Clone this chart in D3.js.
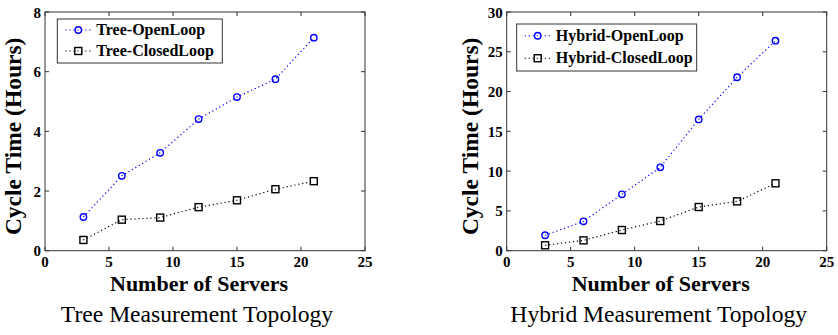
<!DOCTYPE html>
<html>
<head>
<meta charset="utf-8">
<script src="https://cdn.jsdelivr.net/npm/d3@7"></script>
<style>
  body { margin: 0; background: #fff; }
  svg { display: block; }
  svg text { font-family: 'Liberation Serif'; }
  .tick-lbl { font-weight: bold; font-size: 15px; }
</style>
</head>
<body>
<div id="c"></div>
<script>
"use strict";

// x values (number of servers)
const servers = [3, 6, 9, 12, 15, 18, 21]

// tree topology (hours)
const treeOpen   = [1.13, 2.51, 3.28, 4.41, 5.15, 5.75, 7.14]
const treeClosed = [0.36, 1.04, 1.11, 1.46, 1.69, 2.06, 2.33]

// hybrid topology (hours)
const hybridOpen   = [1.94, 3.69, 7.09, 10.48, 16.5, 21.8, 26.4]
const hybridClosed = [0.68, 1.30, 2.60, 3.73, 5.49, 6.20, 8.47]

const xTicks = [0, 5, 10, 15, 20, 25]
const treeYTicks = [0, 2, 4, 6, 8]
const hybridYTicks = [0, 5, 10, 15, 20, 25, 30]

const W = 838, H = 335

let svg = d3.select('#c').append('svg')
    .attr('width', W).attr('height', H)

function drawPanel(opt) {
    const left = opt.left, top = 12, width = 320, height = 238.7
    let g = svg.append('g').attr('transform', 'translate(' + left + ',' + top + ')')

    let xScale = d3.scaleLinear().domain([0, 25]).range([0, width])
    let yScale = d3.scaleLinear().domain([0, opt.yMax]).range([height, 0])

    const axisColor = '#333'
    const tl = 4

    // box
    g.append('rect')
        .attr('x', 0).attr('y', 0)
        .attr('width', width).attr('height', height)
        .attr('fill', 'none').attr('stroke', axisColor).attr('stroke-width', 1)

    // x ticks, bottom & top, inward
    xTicks.forEach(t => {
        let x = xScale(t)
        g.append('line').attr('x1', x).attr('x2', x).attr('y1', height).attr('y2', height - tl)
            .attr('stroke', axisColor)
        g.append('line').attr('x1', x).attr('x2', x).attr('y1', 0).attr('y2', tl)
            .attr('stroke', axisColor)
        g.append('text').attr('class', 'tick-lbl')
            .attr('x', x).attr('y', height + 16)
            .attr('text-anchor', 'middle')
            .text(t)
    })
    // y ticks, left & right
    opt.yTicks.forEach(t => {
        let y = yScale(t)
        g.append('line').attr('x1', 0).attr('x2', tl).attr('y1', y).attr('y2', y)
            .attr('stroke', axisColor)
        g.append('line').attr('x1', width).attr('x2', width - tl).attr('y1', y).attr('y2', y)
            .attr('stroke', axisColor)
        g.append('text').attr('class', 'tick-lbl')
            .attr('x', -4).attr('y', y + 5.5)
            .attr('text-anchor', 'end')
            .text(t)
    })

    // axis labels
    g.append('text')
        .attr('x', width / 2 - 6).attr('y', height + 40)
        .attr('text-anchor', 'middle')
        .style('font-weight', 'bold').style('font-size', '22px')
        .text('Number of Servers')
    g.append('text')
        .attr('transform', 'translate(' + opt.yLabelX + ',' + (height / 2 + 5) + ') rotate(-90)')
        .attr('text-anchor', 'middle')
        .style('font-weight', 'bold').style('font-size', '23.5px')
        .text('Cycle Time (Hours)')

    // caption
    g.append('text')
        .attr('x', width / 2 + opt.capShift).attr('y', 310)
        .attr('text-anchor', 'middle')
        .style('font-size', '23.6px')
        .text(opt.caption)

    const line = d3.line().x(d => xScale(d[0])).y(d => yScale(d[1]))

    const series = [
        { vals: opt.open, color: '#0000ff', marker: 'circle', name: opt.names[0] },
        { vals: opt.closed, color: '#000000', marker: 'square', name: opt.names[1] },
    ]

    function marker(sel, s, x, y) {
        if (s.marker == 'circle') {
            sel.append('circle').attr('cx', x).attr('cy', y).attr('r', 3.2)
                .attr('fill', 'none').attr('stroke', s.color).attr('stroke-width', 1.4)
        } else {
            sel.append('rect').attr('x', x - 3.5).attr('y', y - 3.5)
                .attr('width', 7).attr('height', 7)
                .attr('fill', 'none').attr('stroke', s.color).attr('stroke-width', 1.4)
        }
    }

    series.forEach(s => {
        let pts = servers.map((x, i) => [x, s.vals[i]])
        g.append('path').datum(pts)
            .attr('fill', 'none').attr('stroke', s.color)
            .attr('stroke-width', 1.2).attr('stroke-dasharray', '1.2,2.8')
            .attr('d', line)
        pts.forEach(p => marker(g, s, xScale(p[0]), yScale(p[1])))
    })

    // legend
    let lg = g.append('g').attr('transform', 'translate(' + opt.legend.x + ',' + opt.legend.y + ')')
    lg.append('rect').attr('x', 0).attr('y', 0)
        .attr('width', opt.legend.w).attr('height', opt.legend.h)
        .attr('fill', '#fff').attr('stroke', axisColor)
    series.forEach((s, i) => {
        let y = opt.legend.h * (i + 0.5) / 2 + (i == 0 ? 0 : -1)
        lg.append('line').attr('x1', 8).attr('x2', 36).attr('y1', y).attr('y2', y)
            .attr('stroke', s.color).attr('stroke-width', 1.2).attr('stroke-dasharray', '1.2,2.8')
        marker(lg, s, 21, y)
        lg.append('text').attr('x', 39).attr('y', y + 5)
            .style('font-weight', 'bold').style('font-size', '16px')
            .text(s.name)
    })
}

drawPanel({
    left: 45, yMax: 8, yTicks: treeYTicks,
    open: treeOpen, closed: treeClosed,
    names: ['Tree-OpenLoop', 'Tree-ClosedLoop'],
    caption: 'Tree Measurement Topology', capShift: -8,
    yLabelX: -24,
    legend: { x: 12.3, y: 7, w: 165, h: 44 },
})

drawPanel({
    left: 506.7, yMax: 30, yTicks: hybridYTicks,
    open: hybridOpen, closed: hybridClosed,
    names: ['Hybrid-OpenLoop', 'Hybrid-ClosedLoop'],
    caption: 'Hybrid Measurement Topology', capShift: -8,
    yLabelX: -29,
    legend: { x: 10, y: 12, w: 180, h: 47 },
})
</script>
</body>
</html>
